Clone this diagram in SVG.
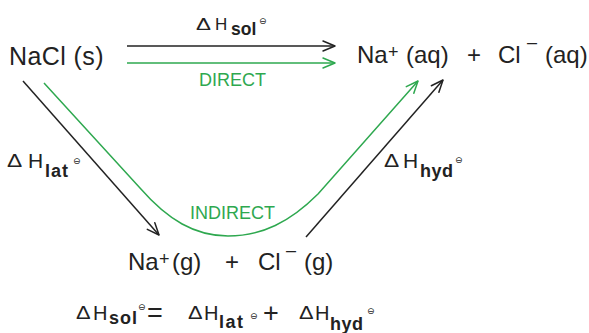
<svg xmlns="http://www.w3.org/2000/svg" width="589" height="333" viewBox="0 0 589 333">
<style>
text{font-family:"Liberation Sans",Arial,sans-serif;fill:#222}
.big{font-size:24px}
.sup{font-size:18px}
.sub{font-weight:bold;font-size:18px}
.pl{font-family:"DejaVu Sans",sans-serif;font-size:9px}
.green{fill:#2ea84f;font-size:18px}
.lk{fill:none;stroke:#222;stroke-width:1.5}
.lg{fill:none;stroke:#2ea84f;stroke-width:1.5}
.d1{font-size:16px}
.d2{font-size:19px}
.h1{font-size:17px}
.h2{font-size:21px}
.op{font-size:27px}
</style>
<defs>
<marker id="ak" markerUnits="userSpaceOnUse" markerWidth="16" markerHeight="14" viewBox="-14 -7 16 14" refX="0" refY="0" orient="auto">
<path d="M-12,-5 L0,0 L-12,5" fill="none" stroke="#222" stroke-width="1.5" stroke-linecap="round" stroke-linejoin="round"/>
</marker>
<marker id="ag" markerUnits="userSpaceOnUse" markerWidth="16" markerHeight="14" viewBox="-14 -7 16 14" refX="0" refY="0" orient="auto">
<path d="M-12,-5 L0,0 L-12,5" fill="none" stroke="#2ea84f" stroke-width="1.5" stroke-linecap="round" stroke-linejoin="round"/>
</marker>
</defs>
<rect width="589" height="333" fill="#fff"/>
<g id="connectors">
<line class="lk" x1="127" y1="46" x2="335" y2="46" marker-end="url(#ak)"/>
<line class="lg" x1="127" y1="63" x2="335" y2="63" marker-end="url(#ag)"/>
<line class="lk" x1="23" y1="81" x2="159" y2="235" marker-end="url(#ak)"/>
<line class="lk" x1="306" y1="237" x2="443" y2="80" marker-end="url(#ak)"/>
<path class="lg" d="M44,83 L140,188 C168,220 195,236 228,236 C262,236 290,222 318,194 L418,81" marker-end="url(#ag)"/>
</g>
<g id="nacl-s">
<text x="9" y="65" style="font-size:25px;letter-spacing:0.4px">NaCl (s)</text>
</g>
<g id="aq-ions">
<text class="big" y="63"><tspan x="357">Na</tspan><tspan class="sup" x="388" y="58">+</tspan><tspan x="406" y="63">(aq)</tspan><tspan x="467">+</tspan><tspan x="498">Cl</tspan><tspan class="sup" x="527" y="48">–</tspan><tspan x="545" y="63">(aq)</tspan></text>
</g>
<g id="gas-ions">
<text class="big" y="270"><tspan x="128">Na</tspan><tspan class="sup" x="159" y="265">+</tspan><tspan x="172" y="270">(g)</tspan><tspan x="225">+</tspan><tspan x="258">Cl</tspan><tspan class="sup" x="286" y="256">–</tspan><tspan x="304" y="270">(g)</tspan></text>
</g>
<g id="label-sol">
<text class="d1" transform="translate(196,30) scale(1.4,1)">Δ</text>
<text class="h1" x="215" y="30">H</text>
<text class="sub" x="231" y="35" style="font-size:17.5px">sol</text>
<text class="pl" x="259" y="24">⊖</text>
</g>
<g id="label-direct">
<text class="green" x="199" y="86">DIRECT</text>
</g>
<g id="label-indirect">
<text class="green" x="190" y="219">INDIRECT</text>
</g>
<g id="label-lat">
<text class="d2" transform="translate(7,167) scale(1.2,1)">Δ</text>
<text class="h2" x="28" y="168">H</text>
<text class="sub" x="45" y="177" style="letter-spacing:1px">lat</text>
<text class="pl" x="73" y="164">⊖</text>
</g>
<g id="label-hyd">
<text class="d2" transform="translate(384,167) scale(1.2,1)">Δ</text>
<text class="h2" x="403" y="168">H</text>
<text class="sub" x="420" y="177" style="letter-spacing:0.5px">hyd</text>
<text class="pl" x="455" y="163">⊖</text>
</g>
<g id="equation">
<text class="d2" transform="translate(76,319) scale(1.15,1)">Δ</text>
<text class="h2" x="93" y="320" style="font-size:20px">H</text>
<text class="sub" x="109" y="324" style="letter-spacing:1px">sol</text>
<text class="pl" x="138" y="310">⊖</text>
<text class="op" x="147" y="322">=</text>
<text class="d2" transform="translate(188,319) scale(1.15,1)">Δ</text>
<text class="h2" x="204" y="320" style="font-size:20px">H</text>
<text class="sub" x="219" y="328" style="letter-spacing:1.5px">lat</text>
<text class="pl" x="250" y="319">⊖</text>
<text class="op" x="263" y="322">+</text>
<text class="d2" transform="translate(299,319) scale(1.15,1)">Δ</text>
<text class="h2" x="315" y="320" style="font-size:20px">H</text>
<text class="sub" x="330" y="330" style="letter-spacing:0.5px">hyd</text>
<text class="pl" x="367" y="314">⊖</text>
</g>
</svg>
